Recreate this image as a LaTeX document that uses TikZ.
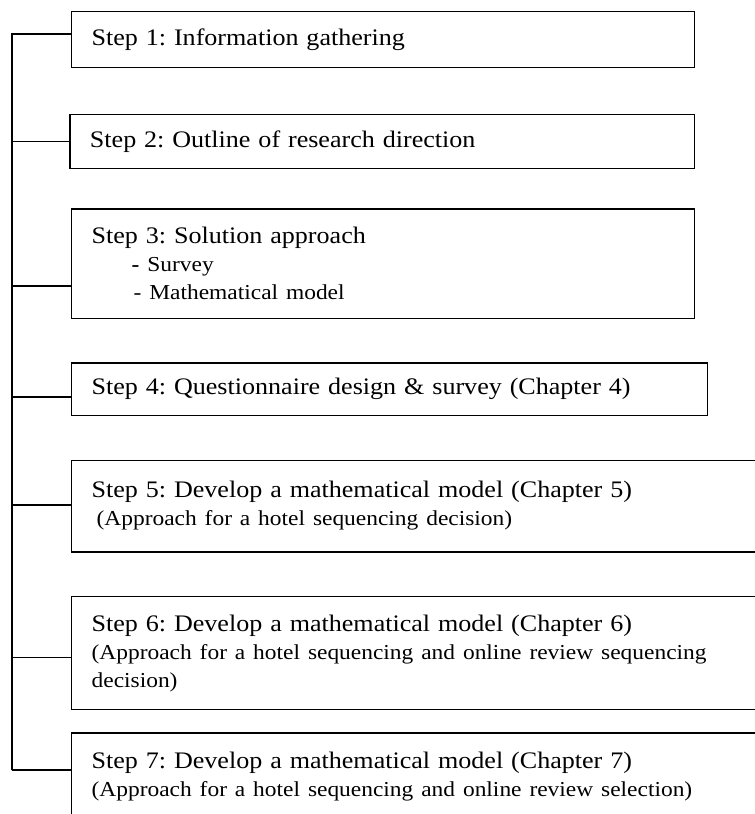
\documentclass[tikz,border=0pt]{standalone}
\usepackage{fontspec}
\setmainfont[FakeStretch=1.10]{Liberation Serif}
\usetikzlibrary{positioning}
\newcommand{\subsz}{\fontsize{21.3}{28}\selectfont}
\frenchspacing

\begin{document}
\begin{tikzpicture}[x=1pt, y=-1pt, line width=1.3pt,
  stepbox/.style={draw, rectangle, align=left, inner xsep=20pt, inner ysep=0pt,
    font=\fontsize{23.7}{28}\selectfont}]
\useasboundingbox (0,0) rectangle (755,814);

\node (s1) [stepbox, anchor=north west, text width=583pt, minimum height=56pt] at (71,10.7) {Step 1: Information gathering};
\node (s2) [stepbox, below right=46pt and -1.7pt of s1.south west, text width=584.7pt, minimum height=54pt] {Step 2: Outline of research direction};
\node (s3) [stepbox, below right=39pt and 1.7pt of s2.south west, text width=583pt, minimum height=109.3pt] {Step 3: Solution approach\\
  \hspace*{40pt}{\subsz\bfseries -} {\subsz Survey}\\
  \hspace*{42pt}{\subsz - Mathematical model}};
\node (s4) [stepbox, below right=43.3pt and 0pt of s3.south west, text width=596pt, minimum height=52.4pt] {Step 4: Questionnaire design \& survey (Chapter 4)};
\node (s5) [stepbox, below right=43.6pt and 0pt of s4.south west, text width=680pt, minimum height=91.7pt] {Step 5: Develop a mathematical model (Chapter 5)\\
  {\subsz\hspace*{5pt}(Approach for a hotel sequencing decision)}};
\node (s6) [stepbox, below right=43.5pt and 0pt of s5.south west, text width=680pt, minimum height=113pt] {Step 6: Develop a mathematical model (Chapter 6)\\
  {\subsz (Approach for a hotel sequencing and online review sequencing}\\
  {\subsz decision)}};
\node (s7) [stepbox, below right=22pt and 0pt of s6.south west, text width=680pt, inner ysep=19pt, text depth=80pt] {Step 7: Develop a mathematical model (Chapter 7)\\
  {\subsz (Approach for a hotel sequencing and online review selection)}};

% spine on the left
\coordinate (top) at (12,33.3);
\coordinate (bottom) at (12,770);
\draw (top) -- (bottom);
\foreach \b/\dy in {s1/5.4, s2/0.4, s3/-22.35, s4/-7.8, s5/1.15, s6/-4} {
  \coordinate (c) at ([yshift=\dy pt]\b.west);
  \draw (c) -- (c -| top);
}
\draw (bottom) -- (bottom -| s7.west);
\end{tikzpicture}
\end{document}
